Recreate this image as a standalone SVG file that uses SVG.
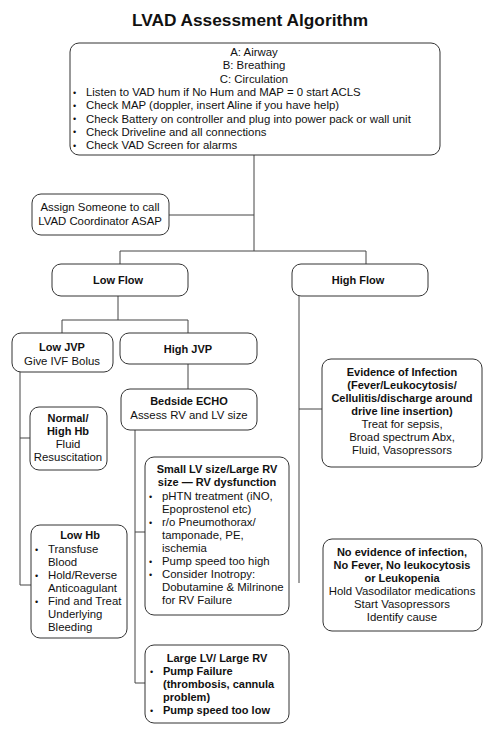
<svg xmlns="http://www.w3.org/2000/svg" width="500" height="732" viewBox="0 0 500 732">
<style>
.box{fill:#fff;stroke:#333;stroke-width:1}
.ln{fill:none;stroke:#444;stroke-width:1}
text{font-family:"Liberation Sans",Arial,sans-serif;font-size:11.4px;fill:#111}
.b{font-weight:bold;font-size:11px}
.c{text-anchor:middle}
.t{font-weight:bold;font-size:17.3px;text-anchor:middle}
.d{font-size:9px}
</style>
<rect width="500" height="732" fill="#fff"/>
<text class="t" x="250" y="26">LVAD Assessment Algorithm</text>
<g id="connectors">
<path class="ln" d="M254 155V251M169 215H254M120 251H366M120 251V264M366 251V264"/>
<path class="ln" d="M118 296V320M62 320H188M62 320V333M188 320V333"/>
<path class="ln" d="M20 372V585H31M20 438H30"/>
<path class="ln" d="M188 364V389"/>
<path class="ln" d="M135 430V683H145M135 532H145"/>
<path class="ln" d="M299 296V583M299 409H322"/>
</g>
<g id="start">
<rect class="box" x="70" y="43" width="370" height="112" rx="9"/>
<text class="c" x="254" y="56">A: Airway</text>
<text class="c" x="254" y="69.3">B: Breathing</text>
<text class="c" x="254" y="82.6">C: Circulation</text>
<text class="d" x="73" y="95.5">•</text><text x="86" y="95.9">Listen to VAD hum if No Hum and MAP = 0 start ACLS</text>
<text class="d" x="73" y="108.8">•</text><text x="86" y="109.2">Check MAP (doppler, insert Aline if you have help)</text>
<text class="d" x="73" y="122.1">•</text><text x="86" y="122.5">Check Battery on controller and plug into power pack or wall unit</text>
<text class="d" x="73" y="135.4">•</text><text x="86" y="135.8">Check Driveline and all connections</text>
<text class="d" x="73" y="148.7">•</text><text x="86" y="149.1">Check VAD Screen for alarms</text>
</g>
<g id="assign">
<rect class="box" x="32" y="194" width="137" height="41" rx="9"/>
<text class="c" x="100" y="211">Assign Someone to call</text>
<text class="c" x="100" y="225">LVAD Coordinator ASAP</text>
</g>
<g id="lowflow">
<rect class="box" x="52" y="264" width="136" height="32" rx="9"/>
<text class="c b" x="118" y="284">Low Flow</text>
</g>
<g id="highflow">
<rect class="box" x="292" y="264" width="136" height="32" rx="9"/>
<text class="c b" x="358" y="284">High Flow</text>
</g>
<g id="lowjvp">
<rect class="box" x="12" y="333" width="101" height="39" rx="9"/>
<text class="c b" x="62" y="351">Low JVP</text>
<text class="c" x="62" y="365">Give IVF Bolus</text>
</g>
<g id="highjvp">
<rect class="box" x="120" y="333" width="137" height="31" rx="9"/>
<text class="c b" x="188" y="353">High JVP</text>
</g>
<g id="echo">
<rect class="box" x="121" y="389" width="136" height="41" rx="9"/>
<text class="c b" x="189" y="405">Bedside ECHO</text>
<text class="c" x="189" y="419">Assess RV and LV size</text>
</g>
<g id="normalhb">
<rect class="box" x="30" y="407" width="77" height="63" rx="9"/>
<text class="c b" x="68" y="422">Normal/</text>
<text class="c b" x="68" y="435">High Hb</text>
<text class="c" x="68" y="448">Fluid</text>
<text class="c" x="68" y="461">Resuscitation</text>
</g>
<g id="lowhb">
<rect class="box" x="31" y="525" width="96" height="113" rx="9"/>
<text class="c b" x="80" y="539">Low Hb</text>
<text class="d" x="35" y="552.6">•</text><text x="48" y="553">Transfuse</text>
<text x="48" y="566">Blood</text>
<text class="d" x="35" y="578.6">•</text><text x="48" y="579">Hold/Reverse</text>
<text x="48" y="592">Anticoagulant</text>
<text class="d" x="35" y="604.6">•</text><text x="48" y="605">Find and Treat</text>
<text x="48" y="618">Underlying</text>
<text x="48" y="631">Bleeding</text>
</g>
<g id="smalllv">
<rect class="box" x="145" y="457" width="144" height="158" rx="9"/>
<text class="c b" x="217" y="473">Small LV size/Large RV</text>
<text class="c b" x="217" y="486">size — RV dysfunction</text>
<text class="d" x="149" y="499.6">•</text><text x="162" y="500">pHTN treatment (iNO,</text>
<text x="162" y="513">Epoprostenol etc)</text>
<text class="d" x="149" y="525.6">•</text><text x="162" y="526">r/o Pneumothorax/</text>
<text x="162" y="539">tamponade, PE,</text>
<text x="162" y="552">ischemia</text>
<text class="d" x="149" y="564.6">•</text><text x="162" y="565">Pump speed too high</text>
<text class="d" x="149" y="577.6">•</text><text x="162" y="578">Consider Inotropy:</text>
<text x="162" y="591">Dobutamine &amp; Milrinone</text>
<text x="162" y="604">for RV Failure</text>
</g>
<g id="largelv">
<rect class="box" x="145" y="645" width="144" height="78" rx="9"/>
<text class="c b" x="217" y="662">Large LV/ Large RV</text>
<text class="d" x="150" y="674.6">•</text><text class="b" x="163" y="675">Pump Failure</text>
<text class="b" x="163" y="688">(thrombosis, cannula</text>
<text class="b" x="163" y="701">problem)</text>
<text class="d" x="150" y="713.6">•</text><text class="b" x="163" y="714">Pump speed too low</text>
</g>
<g id="infection">
<rect class="box" x="322" y="359" width="160" height="108" rx="9"/>
<text class="c b" x="402" y="376">Evidence of Infection</text>
<text class="c b" x="402" y="389">(Fever/Leukocytosis/</text>
<text class="c b" x="402" y="402">Cellulitis/discharge around</text>
<text class="c b" x="402" y="415">drive line insertion)</text>
<text class="c" x="402" y="428">Treat for sepsis,</text>
<text class="c" x="402" y="441">Broad spectrum Abx,</text>
<text class="c" x="402" y="454">Fluid, Vasopressors</text>
</g>
<g id="noinfection">
<rect class="box" x="323" y="539" width="159" height="92" rx="9"/>
<text class="c b" x="402" y="556">No evidence of infection,</text>
<text class="c b" x="402" y="569">No Fever, No leukocytosis</text>
<text class="c b" x="402" y="582">or Leukopenia</text>
<text class="c" x="402" y="595">Hold Vasodilator medications</text>
<text class="c" x="402" y="608">Start Vasopressors</text>
<text class="c" x="402" y="621">Identify cause</text>
</g>
</svg>
